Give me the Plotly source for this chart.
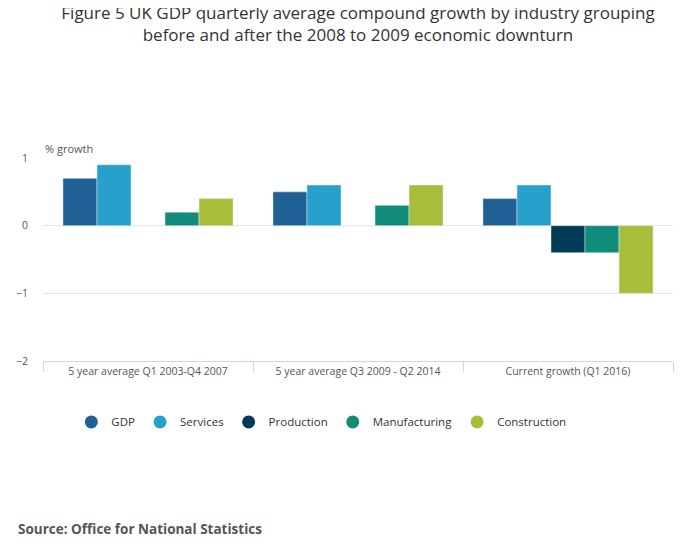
import plotly.graph_objects as go

categories = ["5 year average Q1 2003-Q4 2007", "5 year average Q3 2009 - Q2 2014", "Current growth (Q1 2016)"]
series = ["GDP", "Services", "Production", "Manufacturing", "Construction"]
colors = ["#206095", "#27a0cc", "#003c57", "#118c7b", "#a8bd3a"]
values = {
    "GDP": [0.7, 0.5, 0.4],
    "Services": [0.9, 0.6, 0.6],
    "Production": [0.0, 0.0, -0.4],
    "Manufacturing": [0.2, 0.3, -0.4],
    "Construction": [0.4, 0.6, -1.0],
}

fig = go.Figure()
for s, c in zip(series, colors):
    fig.add_trace(go.Bar(x=categories, y=values[s], name=s, marker_color=c, showlegend=False))
    fig.add_trace(go.Scatter(x=[None], y=[None], mode="markers", name=s,
                             marker=dict(symbol="circle", size=13, color=c)))

font = "Open Sans"
fig.update_layout(
    width=700, height=549, barmode="group", bargap=0.19, bargroupgap=0,
    plot_bgcolor="white", paper_bgcolor="white",
    margin=dict(l=35, r=35, t=150, b=196, autoexpand=False),
    font=dict(family=font, color="#555"),
    title=dict(text="Figure 5 UK GDP quarterly average compound growth by industry grouping<br>before and after the 2008 to 2009 economic downturn",
               x=0.5, xanchor="center", y=0.98, yanchor="top", font=dict(size=17, color="#333")),
    legend=dict(orientation="h", x=0.045, y=-0.30, xanchor="left", yanchor="middle",
                font=dict(size=11.5, color="#333"), itemwidth=30, tracegroupgap=0),
    xaxis=dict(tickson="boundaries", ticks="outside", ticklen=10, tickcolor="#ccd6eb",
               showline=True, linecolor="#ccd6eb", tickfont=dict(size=10.5, color="#555"),
               automargin=False),
    yaxis=dict(range=[-2, 1], dtick=1, gridcolor="#e6e6e6", zeroline=False, automargin=False,
               tickfont=dict(size=10.5, color="#555"), ticklabelstandoff=14),
    annotations=[
        dict(text="% growth", x=0, xref="paper", xanchor="left", y=1, yref="paper", yanchor="bottom",
             showarrow=False, font=dict(size=11, color="#555")),
        dict(text="<b>Source: Office for National Statistics</b>", x=-0.043, xref="paper", xanchor="left",
             y=-0.83, yref="paper", yanchor="middle", showarrow=False, font=dict(size=13.5, color="#555")),
    ],
)
fig.write_html("out.html")
